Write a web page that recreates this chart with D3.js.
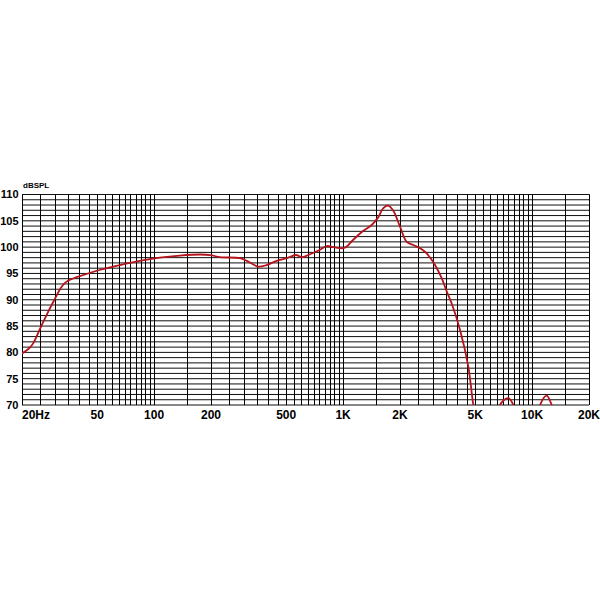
<!DOCTYPE html>
<html>
<head>
<meta charset="utf-8">
<script src="https://cdn.jsdelivr.net/npm/d3@7"></script>
<style>
    body { margin: 0; background: #fff; }
    svg { display: block; }
    text { font-family: "Liberation Sans", Arial, Helvetica, sans-serif; font-weight: bold; fill: #000; }
</style>
</head>
<body>
<svg id="chart" width="600" height="600"></svg>
<script>

//*************************************************//
// Chart data
//*************************************************//

// Frequency (Hz) of each point on the response curve
var freqs = [20, 21, 22, 23, 25, 27.5, 30, 32, 34, 37, 40.5, 52, 66, 84, 107, 137, 175, 198, 223,
    285, 309, 356, 394, 445, 503, 563, 604, 654, 755, 819, 888, 1002, 1045, 1132, 1279, 1417,
    1536, 1632, 1734, 1844, 2000, 2170, 2352, 2606, 2768, 3064, 3324, 3532, 3754, 4154, 4596,
    4886, 5300, 6000, 6400, 6762, 7480, 7955, 8600, 10300, 11012, 11940, 12694, 14000];

// Sound pressure level (dBSPL) at each frequency
var spl = [79.8, 80.3, 80.9, 81.8, 84.6, 87.7, 90.3, 92.2, 93.3, 94.0, 94.5, 95.7, 96.6, 97.4, 98.0, 98.4, 98.6, 98.5, 98.1,
    97.9, 97.4, 96.3, 96.6, 97.4, 97.9, 98.5, 98.1, 98.5, 99.5, 100.2, 100.0, 99.8, 100.1, 101.4, 103.1, 104.2,
    105.7, 107.4, 107.9, 106.9, 103.9, 101.0, 100.4, 99.6, 98.8, 96.6, 94.1, 91.6, 89.3, 84.3, 77.3,
    70.0, 63, 60, 63, 70.0, 71.3, 70.0, 64, 64, 70.0, 71.8, 70.0, 64];

// Axis ticks and labels
var xTickValues = [20, 50, 100, 200, 500, 1000, 2000, 5000, 10000, 20000];
var xTickLabels = ["20Hz", "50", "100", "200", "500", "1K", "2K", "5K", "10K", "20K"];
var yTickValues = [70, 75, 80, 85, 90, 95, 100, 105, 110];

// Grid line multipliers inside each decade
var gridSteps = [1, 1.5, 2, 2.5, 3, 3.5, 4, 4.5, 5, 5.5, 6, 6.5, 7, 7.5, 8, 8.5, 9, 9.5];


//*************************************************//
// Layout
//*************************************************//
var svg = d3.select('#chart');

var plot = { left: 22, right: 589, top: 194.5, bottom: 405 };

// x is log frequency, y is dBSPL
var x = d3.scaleLog().domain([20, 20000]).range([plot.left, plot.right]);
var y = d3.scaleLinear().domain([70, 110]).range([plot.bottom, plot.top]);


/*****************************/
// Grid
/*****************************/

// Vertical grid frequencies
var gridFreqs = [];
[10, 100, 1000, 10000].forEach(function(decade) {
    gridSteps.forEach(function(m) {
        var f = decade * m;
        if (f >= 20 && f <= 20000) gridFreqs.push(f);
    });
});
gridFreqs.push(20000);

// Horizontal grid every 1 dB
var gridDb = d3.range(70, 111, 1);

var grid = svg.append('g').attr('class', 'grid');

grid.selectAll('.hline')
    .data(gridDb)
    .enter().append('line')
    .attr('class', 'hline')
    .attr('x1', plot.left)
    .attr('x2', plot.right)
    .attr('y1', function(d) { return y(d); })
    .attr('y2', function(d) { return y(d); })
    .attr('stroke', '#111')
    .attr('stroke-width', 1);

grid.selectAll('.vline')
    .data(gridFreqs)
    .enter().append('line')
    .attr('class', 'vline')
    .attr('x1', function(d) { return Math.round(x(d)) + 0.5; })
    .attr('x2', function(d) { return Math.round(x(d)) + 0.5; })
    .attr('y1', plot.top)
    .attr('y2', plot.bottom)
    .attr('stroke', '#000')
    .attr('stroke-width', 1);


/*****************************/
// Response curve
/*****************************/

// Clip curve to the plot frame
svg.append('clipPath')
    .attr('id', 'plot-clip')
  .append('rect')
    .attr('x', plot.left)
    .attr('y', plot.top)
    .attr('width', plot.right - plot.left)
    .attr('height', plot.bottom - plot.top);

var line = d3.line()
    .x(function(d, i) { return x(freqs[i]); })
    .y(function(d) { return y(d); })
    .curve(d3.curveCatmullRom.alpha(0.5));

svg.append('path')
    .datum(spl)
    .attr('clip-path', 'url(#plot-clip)')
    .attr('d', line)
    .attr('fill', 'none')
    .attr('stroke', '#b5121b')
    .attr('stroke-width', 1.8)
    .attr('stroke-linejoin', 'round')
    .attr('stroke-linecap', 'round');


/*****************************/
// Labels
/*****************************/

// y axis labels
svg.selectAll('.ylabel')
    .data(yTickValues)
    .enter().append('text')
    .attr('class', 'ylabel')
    .attr('x', 18.5)
    .attr('y', function(d) { return y(d); })
    .attr('dy', '0.36em')
    .attr('text-anchor', 'end')
    .attr('font-size', '11px')
    .text(function(d) { return d; });

// x axis labels (first one starts at frame edge)
svg.selectAll('.xlabel')
    .data(xTickValues)
    .enter().append('text')
    .attr('class', 'xlabel')
    .attr('x', function(d, i) { return i == 0 ? plot.left : x(d); })
    .attr('y', 418.5)
    .attr('text-anchor', function(d, i) { return i == 0 ? 'start' : 'middle'; })
    .attr('font-size', '12px')
    .text(function(d, i) { return xTickLabels[i]; });

// Unit label
svg.append('text')
    .attr('x', 23)
    .attr('y', 188)
    .attr('font-size', '8px')
    .text('dBSPL');

</script>
</body>
</html>
